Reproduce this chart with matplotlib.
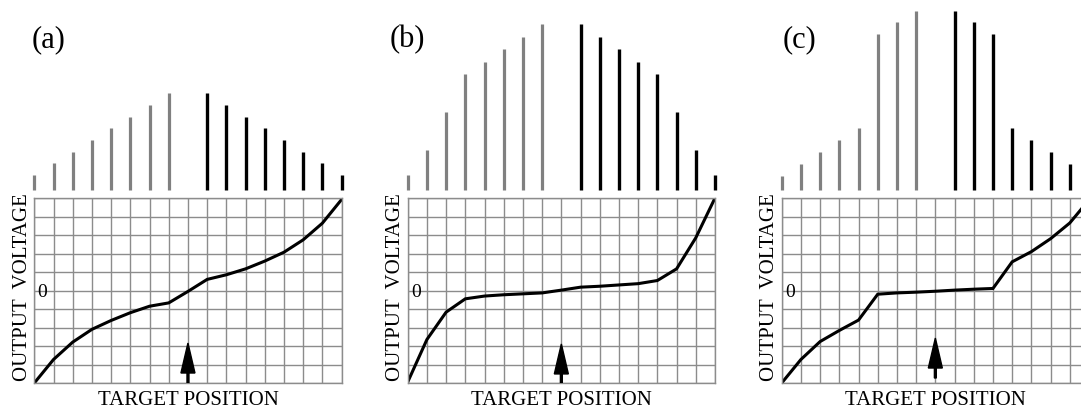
import numpy as np
import matplotlib.pyplot as plt

plt.rcParams['font.family'] = ['Liberation Serif', 'DejaVu Serif']

# detector signal amplitudes (gray = left group, black = right group)
labels = ['(a)', '(b)', '(c)']
gray_a = [15, 27, 38, 50, 62, 73, 85, 97]
black_a = [97, 85, 73, 62, 50, 38, 27, 15]
gray_b = [15, 40, 78, 116, 128, 141, 153, 166]
black_b = [166, 153, 141, 128, 116, 78, 40, 15]
gray_c = [14, 26, 38, 50, 62, 156, 168, 179]
black_c = [179, 168, 156, 62, 50, 38, 26, 14]

# output voltage vs target position (grid units, zero in the middle)
volt_a = [-5.0, -3.73, -2.79, -2.1, -1.62, -1.2, -0.85, -0.67, -0.05,
          0.6, 0.85, 1.17, 1.59, 2.07, 2.74, 3.64, 4.92]
volt_b = [-4.95, -2.65, -1.17, -0.45, -0.3, -0.23, -0.18, -0.13, 0.02,
          0.18, 0.23, 0.3, 0.37, 0.54, 1.17, 2.85, 5.0]
volt_c = [-5.0, -3.73, -2.76, -2.16, -1.6, -0.2, -0.13, -0.09, -0.04,
          0.02, 0.07, 0.11, 1.55, 2.1, 2.8, 3.65, 4.9]

grays = [gray_a, gray_b, gray_c]
blacks = [black_a, black_b, black_c]
volts = [volt_a, volt_b, volt_c]

W, H = 1081, 408
fig = plt.figure(figsize=(W / 100, H / 100), dpi=100)

grid_left = [34.3, 407.7, 781.7]
label_x = [32, 390, 783]
arrow_y = [(-5.0, -2.84), (-5.0, -2.89), (-4.73, -2.57)]
gw, gh = 307.3, 185
gcol = '#8c8c8c'

for i in range(3):
    left = grid_left[i]

    # bars above the grid
    bx = fig.add_axes([left / W, (H - 190) / H, gw / W, 190 / H])
    bx.set_xlim(0, 16)
    bx.set_ylim(0, 190)
    bx.axis('off')
    bx.vlines(np.arange(8), 0, grays[i], color='#808080', lw=2.3, clip_on=False)
    bx.vlines(np.arange(9, 17), 0, blacks[i], color='black', lw=2.4, clip_on=False)

    # grid with voltage curve
    ax = fig.add_axes([left / W, 25 / H, gw / W, gh / H])
    ax.set_xlim(0, 16)
    ax.set_ylim(-5, 5)
    ax.set_xticks(np.arange(17))
    ax.set_yticks(np.arange(-5, 6))
    ax.tick_params(length=0, labelbottom=False, labelleft=False)
    ax.grid(True, color=gcol, lw=1.0)
    for s in ax.spines.values():
        s.set_color(gcol)
        s.set_linewidth(1.0)
    ax.plot(np.arange(17), volts[i], color='black', lw=2.2, solid_joinstyle='miter')

    b, t = arrow_y[i]
    ax.arrow(8, b, 0, t - b, width=0.1, head_width=0.73, head_length=1.62,
             length_includes_head=True, color='black', zorder=5)

    ax.text(0.42, -0.35, '0', fontsize=14, ha='center', va='baseline')
    ax.text(-7.3 / gw, 0.52, 'OUTPUT  VOLTAGE', fontsize=15, rotation=90,
            rotation_mode='anchor', ha='center', va='baseline',
            transform=ax.transAxes)
    ax.text(0.5, -22 / gh, 'TARGET POSITION', fontsize=15, ha='center',
            va='baseline', transform=ax.transAxes)

    fig.text(label_x[i] / W, (H - 47) / H, labels[i], fontsize=22,
             ha='left', va='baseline')

fig.savefig('out.png', dpi=100)
